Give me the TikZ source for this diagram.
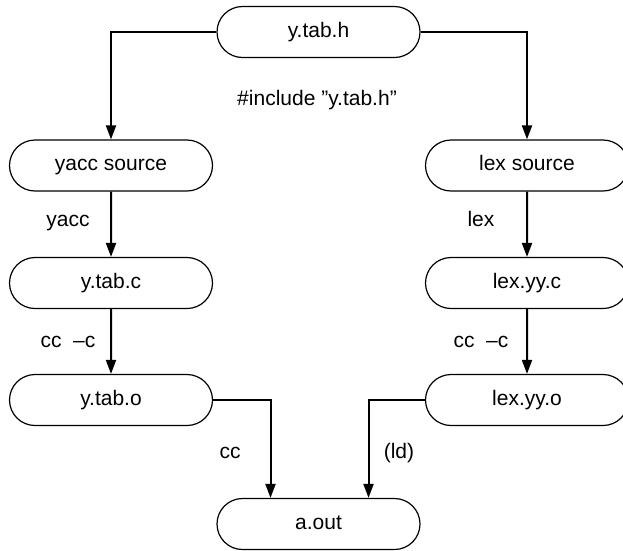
\documentclass[tikz,border=0pt]{standalone}
\usepackage{fontspec}
\setmainfont{Liberation Sans}[Ligatures=ResetAll]
\usetikzlibrary{shapes.misc,arrows.meta}
\begin{document}
\begin{tikzpicture}[x=1pt,y=-1pt,
  every node/.style={font=\fontsize{21}{25}\selectfont, text height=15pt, text depth=4.5pt},
  filebox/.style={rounded rectangle, draw, line width=1.2pt, minimum width=203pt, minimum height=51pt, inner sep=0pt},
  flow/.style={line width=2pt, -{Triangle[length=14pt,width=10pt]}},
  lbl/.style={inner sep=0pt}]
\useasboundingbox (0,0) rectangle (623,550);
\node[filebox] (h) at (318.5,32) {y.tab.h};
\node[filebox] (ys) at (111,165.5) {yacc source};
\node[filebox] (ls) at (527,165.5) {lex source};
\node[filebox] (yc) at (111,283) {y.tab.c};
\node[filebox] (lc) at (527,283) {lex.yy.c};
\node[filebox] (yo) at (111,400) {y.tab.o};
\node[filebox] (lo) at (527,400) {lex.yy.o};
\node[filebox] (a) at (318.5,524) {a.out};
\draw[flow] (h.west) -| (ys.north);
\draw[flow] (h.east) -| (ls.north);
\draw[flow] (ys) -- (yc);
\draw[flow] (ls) -- (lc);
\draw[flow] (yc) -- (yo);
\draw[flow] (lc) -- (lo);
\draw[flow] (yo.east) -| ([xshift=-48pt]a.north);
\draw[flow] (lo.west) -| ([xshift=50pt]a.north);
\node[lbl] (inc) at (317,100) {\#include "y.tab.h"};
\node[lbl] (l1) at (68,221) {yacc};
\node[lbl] (l2) at (481,221) {lex};
\node[lbl] (l3) at (68,342) {cc\ \ –c};
\node[lbl] (l4) at (481,342) {cc\ \ –c};
\node[lbl] (l5) at (230,453) {cc};
\node[lbl] (l6) at (399,453) {(ld)};
\end{tikzpicture}
\end{document}
